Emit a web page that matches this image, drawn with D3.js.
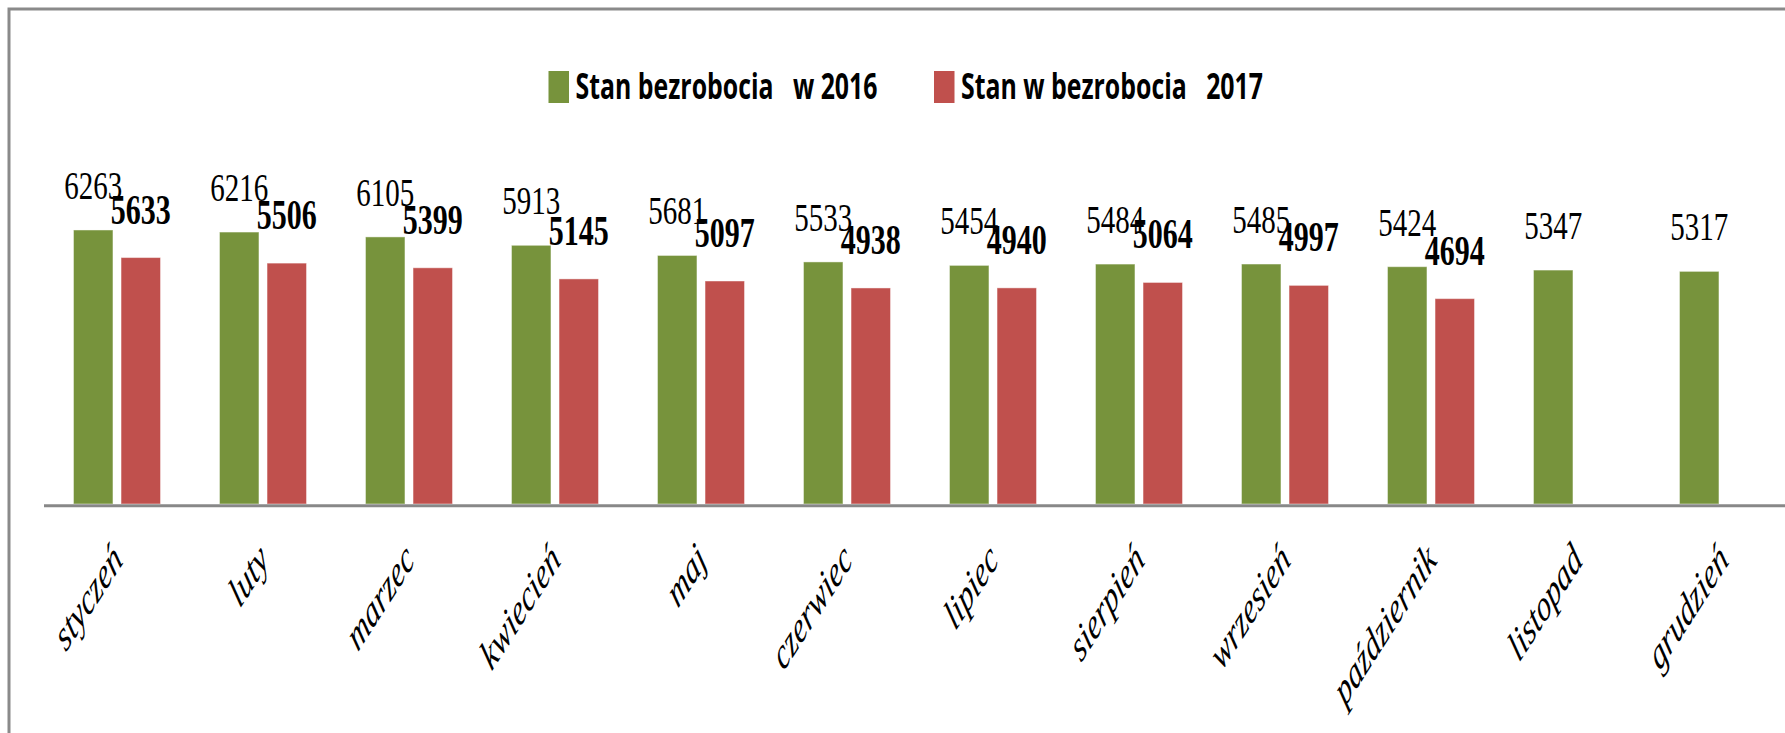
<!DOCTYPE html>
<html>
<head>
<meta charset="utf-8">
<script src="https://cdn.jsdelivr.net/npm/d3@7"></script>
<style>
  html, body { margin: 0; padding: 0; background: #fff; overflow: hidden; }
  svg { display: block; }
</style>
</head>
<body>
<div id="chart"></div>
<script>
/* stan bezrobocia 2016 vs 2017 — grouped bars, vertically stretched excel look */

const months = ["styczeń","luty","marzec","kwiecień","maj","czerwiec",
                "lipiec","sierpień","wrzesień","październik","listopad","grudzień"];
const values2016 = [6263, 6216, 6105, 5913, 5681, 5533, 5454, 5484, 5485, 5424, 5347, 5317];
const values2017 = [5633, 5506, 5399, 5145, 5097, 4938, 4940, 5064, 4997, 4694];
const seriesKeys = ["2016", "2017"];
const seriesNames = ["Stan bezrobocia   w 2016", "Stan w bezrobocia   2017"];
const seriesColors = ["#77933C", "#C0504D"];

const W = 1785, H = 733, STRETCH = 1.4;
const BASE = 504;

const svg = d3.select("#chart").append("svg").attr("width", W).attr("height", H);

// frame (runs off the right and bottom edge like in the source image)
svg.append("rect").attr("x", 9).attr("y", 9)
   .attr("width", W + 20).attr("height", H + 20)
   .attr("fill", "none").attr("stroke", "#8a8a8a").attr("stroke-width", 3);

const x = d3.scaleBand().domain(months).range([44, 44 + 12 * 146]).padding(0);
const x1 = d3.scaleBand().domain(seriesKeys).range([0, x.bandwidth()])
             .paddingInner(0.17).paddingOuter(0.62);
const y = d3.scaleLinear().domain([0, 7000]).range([BASE, BASE - 7000 * 0.04375]);
const color = d3.scaleOrdinal(seriesKeys, seriesColors);

const rows = [];
months.forEach((m, i) => {
  rows.push({ month: m, key: "2016", value: values2016[i] });
  if (values2017[i] != null) rows.push({ month: m, key: "2017", value: values2017[i] });
});

/* bars */
svg.append("g").selectAll("rect").data(rows).join("rect")
   .attr("x", d => x(d.month) + x1(d.key))
   .attr("y", d => y(d.value))
   .attr("width", x1.bandwidth())
   .attr("height", d => y(0) - y(d.value))
   .attr("fill", d => color(d.key))
   .attr("stroke", "rgba(255,255,255,0.45)").attr("stroke-width", 1);

/* axis line */
svg.append("line").attr("x1", 44).attr("x2", W + 10)
   .attr("y1", BASE + 1.8).attr("y2", BASE + 1.8)
   .attr("stroke", "#888").attr("stroke-width", 3);

/* value labels */
svg.append("g").selectAll("text").data(rows).join("text")
   .attr("transform", d => {
     const cx = x(d.month) + x1(d.key) + x1.bandwidth() / 2;
     const off = d.key === "2016" ? 31 : 34;
     return `translate(${cx},${y(d.value) - off}) scale(1,${STRETCH})`;
   })
   .attr("text-anchor", "middle")
   .style("font-family", "'Liberation Serif','Times New Roman',serif")
   .style("font-size", d => d.key === "2016" ? "29px" : "30px")
   .style("font-weight", d => d.key === "2016" ? "normal" : "bold")
   .attr("fill", "#000")
   .text(d => d.value);

/* category labels: 45deg text, stretched vertically with the rest */
svg.append("g").selectAll("text").data(months).join("text")
   .attr("transform", d =>
     `translate(${x(d) + x.bandwidth() / 2 + 7},${BASE + 58}) scale(1,1.56) rotate(-45)`)
   .attr("text-anchor", "end")
   .style("font-family", "'Liberation Serif','Times New Roman',serif")
   .style("font-style", "italic")
   .style("font-size", "28.5px")
   .attr("fill", "#000")
   .text(d => d);

/* legend */
const legX = [548.5, 934];
const leg = svg.append("g").selectAll("g").data(seriesKeys).join("g")
   .attr("transform", (d, i) => `translate(${legX[i]},0)`);
leg.append("rect").attr("x", 0).attr("y", 71).attr("width", 20.5).attr("height", 32)
   .attr("fill", d => color(d));
leg.append("text")
   .attr("transform", `translate(27,98.5) scale(1,${STRETCH})`)
   .style("font-family", "'Open Sans','Noto Sans',sans-serif")
   .style("font-weight", "bold")
   .style("font-size", "25px")
   .style("white-space", "pre")
   .attr("textLength", 302).attr("lengthAdjust", "spacingAndGlyphs")
   .attr("fill", "#000")
   .text((d, i) => seriesNames[i]);
</script>
</body>
</html>
